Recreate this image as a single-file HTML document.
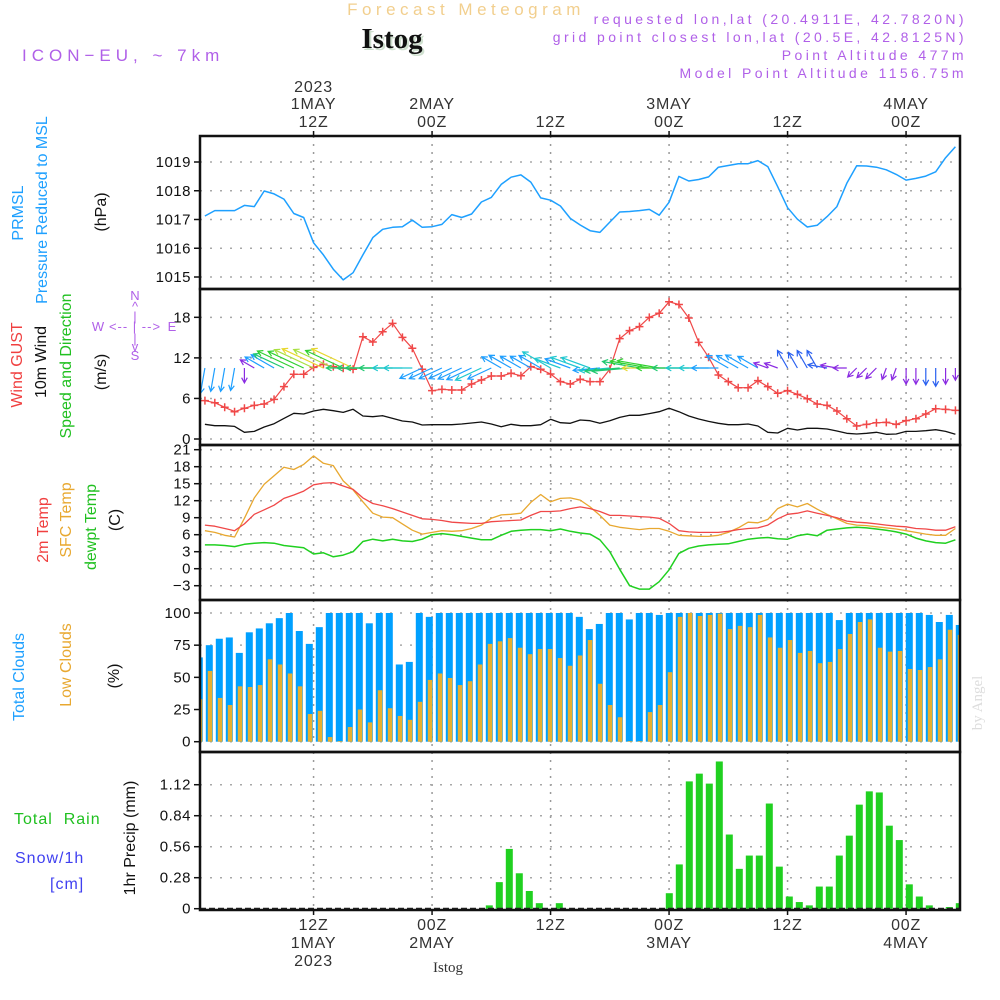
<!DOCTYPE html>
<html><head><meta charset="utf-8">
<style>
html,body{margin:0;padding:0;background:#fff;}
svg{display:block;font-family:"Liberation Sans",sans-serif;}
.tk{font-size:15px;fill:#111;text-anchor:end;letter-spacing:0.5px;}
.tl{font-size:16px;fill:#333;text-anchor:middle;letter-spacing:0.8px;}
.lab{font-size:16px;text-anchor:middle;}
</style></head>
<body>
<svg id="chart" width="1000" height="1000" viewBox="0 0 1000 1000" xmlns="http://www.w3.org/2000/svg">
<rect x="0" y="0" width="1000" height="1000" fill="#fff"/>
<text x="466" y="15" font-size="17" fill="#f2cf8e" text-anchor="middle" letter-spacing="4.5">Forecast Meteogram</text>
<text x="394" y="50" font-size="29" font-weight="bold" font-family="Liberation Serif,serif" fill="#cfe0cf" text-anchor="middle">Istog</text>
<text x="392" y="48" font-size="29" font-weight="bold" font-family="Liberation Serif,serif" fill="#111" text-anchor="middle">Istog</text>
<text x="22" y="61" font-size="17" fill="#b060e8" letter-spacing="5">ICON−EU, ~ 7km</text>
<g font-size="14" fill="#b060e8" text-anchor="end" letter-spacing="3.4">
<text x="967" y="24">requested lon,lat (20.4911E, 42.7820N)</text>
<text x="967" y="42">grid point closest lon,lat (20.5E, 42.8125N)</text>
<text x="967" y="60">Point Altitude 477m</text>
<text x="967" y="78">Model Point Altitude 1156.75m</text>
</g>
<g id="grid"></g>
<g id="marks"></g>
<g id="frames"></g>
<g id="axes"></g>
<g>
<text class="lab" transform="translate(23,213) rotate(-90)" fill="#1ea0ff">PRMSL</text>
<text class="lab" transform="translate(47,210) rotate(-90)" fill="#1ea0ff">Pressure Reduced to MSL</text>
<text class="lab" transform="translate(106,212) rotate(-90)" fill="#111">(hPa)</text>
</g>
<g>
<text class="lab" transform="translate(22,365) rotate(-90)" fill="#f04040">Wind GUST</text>
<text class="lab" transform="translate(46,362) rotate(-90)" fill="#111">10m Wind</text>
<text class="lab" transform="translate(71,366) rotate(-90)" fill="#20c020">Speed and Direction</text>
<text class="lab" transform="translate(106,372) rotate(-90)" fill="#111">(m/s)</text>
</g>
<g font-size="13" fill="#b060e8" text-anchor="middle">
<text x="135" y="300">N</text><text x="135" y="311">^</text><text x="135" y="321">|</text>
<text x="98" y="331">W</text><text x="135" y="331" letter-spacing="1">&lt;-- | --&gt;</text><text x="172" y="331">E</text>
<text x="135" y="343">|</text><text x="135" y="351">v</text><text x="135" y="360">S</text>
</g>
<g>
<text class="lab" transform="translate(48,530) rotate(-90)" fill="#f04040">2m Temp</text>
<text class="lab" transform="translate(71,520) rotate(-90)" fill="#e8a830">SFC Temp</text>
<text class="lab" transform="translate(96,527) rotate(-90)" fill="#20c020">dewpt Temp</text>
<text class="lab" transform="translate(120,520) rotate(-90)" fill="#111">(C)</text>
</g>
<g>
<text class="lab" transform="translate(24,677) rotate(-90)" fill="#1ea0ff">Total Clouds</text>
<text class="lab" transform="translate(71,665) rotate(-90)" fill="#e8a830">Low Clouds</text>
<text class="lab" transform="translate(119,676) rotate(-90)" fill="#111">(%)</text>
</g>
<g>
<text x="14" y="824" font-size="16" fill="#20c020" letter-spacing="1">Total&#160;&#160;Rain</text>
<text x="15" y="863" font-size="16" fill="#4040f0" letter-spacing="1">Snow/1h</text>
<text x="50" y="889" font-size="16" fill="#4040f0" letter-spacing="1">[cm]</text>
<text class="lab" transform="translate(135,838) rotate(-90)" fill="#111">1hr Precip (mm)</text>
</g>
<text transform="translate(982,703) rotate(-90)" font-size="15" font-family="Liberation Serif,serif" fill="#ddd" text-anchor="middle">by Angel</text>
<text x="448" y="972" font-size="15" font-family="Liberation Serif,serif" fill="#333" text-anchor="middle">Istog</text>
</svg>
<script>
const timeTickHours = [12, 24, 36, 48, 60, 72];
const topLabels1 = ["1MAY", "2MAY", "", "3MAY", "", "4MAY"];
const topLabels2 = ["12Z", "00Z", "12Z", "00Z", "12Z", "00Z"];
const bottomLabels1 = ["12Z", "00Z", "12Z", "00Z", "12Z", "00Z"];
const bottomLabels2 = ["1MAY", "2MAY", "", "3MAY", "", "4MAY"];
const yearLabel = "2023";

const pressure = [1017.12,1017.31,1017.31,1017.31,1017.49,1017.45,1017.99,1017.89,1017.71,1017.21,
1017.07,1016.19,1015.77,1015.27,1014.90,1015.15,1015.77,1016.37,1016.66,1016.73,
1016.75,1016.98,1016.73,1016.75,1016.83,1017.17,1017.07,1017.19,1017.61,1017.77,
1018.22,1018.47,1018.55,1018.30,1017.75,1017.67,1017.47,1017.04,1016.81,1016.61,
1016.55,1016.91,1017.26,1017.28,1017.31,1017.35,1017.15,1017.60,1018.50,1018.34,
1018.39,1018.48,1018.82,1018.88,1018.94,1018.94,1019.05,1018.84,1018.14,1017.41,
1017.01,1016.74,1016.80,1017.10,1017.45,1018.26,1018.87,1018.86,1018.82,1018.73,
1018.57,1018.37,1018.43,1018.51,1018.66,1019.15,1019.53];
const pressureTicks = [1015, 1016, 1017, 1018, 1019];

const gust = [5.67,5.37,4.69,4.04,4.54,4.98,5.18,5.87,7.74,9.57,
9.57,10.6,11.05,10.7,10.46,10.31,15.13,14.35,15.87,17.11,
15.04,13.42,10.31,7.15,7.35,7.25,7.25,8.14,8.73,9.32,
9.32,9.72,9.36,10.7,10.31,9.62,8.48,8.14,8.83,8.48,
8.48,10.31,14.84,16.03,16.62,18.0,18.6,20.3,19.9,17.9,
14.3,12.1,9.47,8.48,7.59,7.59,8.63,7.74,6.76,7.15,
6.61,5.96,5.18,4.98,4.14,3.0,1.92,2.17,2.41,2.46,
2.17,2.71,3.0,3.7,4.48,4.38,4.24];
const windSpeed = [2.17,1.97,1.97,1.87,0.99,1.13,1.78,2.27,3.05,3.8,
3.7,4.14,4.39,4.19,3.94,4.39,3.4,3.3,3.45,3.05,
2.66,2.51,2.07,2.12,2.12,2.12,2.22,2.37,2.51,2.22,
1.82,2.17,1.97,1.97,2.12,2.91,2.41,2.32,2.81,2.71,
2.32,2.71,3.2,3.5,3.5,3.75,4.04,4.54,4.04,3.4,
2.96,2.61,2.32,2.12,2.12,2.22,1.92,0.99,0.89,1.58,
1.33,1.58,1.58,1.48,1.18,0.84,0.74,0.84,0.99,0.69,
0.74,1.13,1.13,1.23,1.38,1.13,0.69];
const windDirTo = [190,190,190,190,180,300,300,300,295,295,
295,295,295,295,295,295,270,270,270,270,
270,270,245,245,245,245,245,245,245,245,
300,300,300,300,300,300,290,290,290,290,
265,265,265,265,280,280,280,270,270,270,
270,270,270,300,300,300,300,290,290,330,
330,330,330,280,280,270,225,225,225,200,
200,180,180,180,180,180,180];
const windTicks = [0, 6, 12, 18];

const temp2m = [7.7,7.5,7.1,6.7,7.9,9.6,10.4,11.2,12.4,13.0,
13.7,14.8,15.1,15.2,14.6,14.0,12.5,11.5,11.1,10.6,
10.0,9.4,8.8,8.7,8.5,8.2,8.1,8.0,8.0,8.3,
8.4,8.5,8.6,9.4,10.1,10.1,10.2,10.6,10.9,10.6,
10.1,9.4,9.4,9.3,9.2,9.1,8.9,8.0,6.7,6.5,
6.4,6.4,6.4,6.6,6.9,7.1,7.2,7.7,8.8,9.6,
9.8,10.2,9.8,9.4,9.0,8.4,8.2,8.1,7.9,7.7,
7.5,7.4,7.1,7.0,6.8,6.8,7.4];
const tempSfc = [6.7,6.4,5.9,5.6,8.9,12.5,14.9,16.4,17.9,17.5,
18.4,19.9,18.6,18.2,15.5,13.9,11.8,9.8,9.1,9.0,
7.9,6.8,6.1,6.4,6.7,6.6,6.7,7.1,7.7,8.9,
9.5,9.6,9.8,11.7,13.1,11.8,12.4,12.5,12.1,10.9,
9.4,7.7,7.3,7.1,6.9,7.1,7.1,6.6,5.9,5.8,
5.7,5.7,5.9,6.4,7.2,8.2,8.1,8.7,10.6,11.4,
10.9,11.5,10.5,9.6,8.8,8.0,7.7,7.6,7.4,7.2,
7.0,6.7,6.4,6.1,5.9,5.9,7.1];
const dewpoint = [4.2,4.2,4.1,3.9,4.3,4.5,4.6,4.5,4.1,3.9,
3.7,2.6,2.8,2.1,2.4,3.0,4.8,5.2,4.9,5.2,
4.9,4.8,5.2,6.0,6.2,6.0,5.7,5.4,5.1,5.1,
5.9,6.6,6.8,6.9,6.9,6.7,7.0,6.6,6.3,6.1,
5.1,3.0,-0.1,-3.0,-3.6,-3.6,-2.3,-0.2,2.7,3.6,
4.0,4.2,4.3,4.4,4.8,5.2,5.4,5.5,5.3,5.2,
5.8,6.1,5.8,6.8,7.0,7.2,7.3,7.2,7.0,6.8,
6.5,6.1,5.4,4.9,4.6,4.5,5.1];
const tempTicks = [-3, 0, 3, 6, 9, 12, 15, 18, 21];

const totalClouds = [65.5,75,80,81,69,85,88,92,96,100,
86,76,89,100,100,100,100,92,100,100,
60,62,100,97,100,100,100,100,100,100,
100,100,100,100,100,100,100,100,97,87.5,
91.5,100,100,95,100,100,98.5,100,100,100,
100,100,100,100,100,100,100,100,100,100,
100,100,100,100,94.5,100,100,100,100,100,
100,100,100,98.5,93,98.5,90.7];
const lowClouds = [33,55,34,28.5,43,42.5,44,64,60,53,
43,21.5,24,3.6,0.5,11.4,25,15,40,26,
20,17,31,48,53,49.5,44,47,60,76,
78,80.5,73,68,72,72,65,59,67,79,
45,28.5,19,0.5,0.5,23,28.5,54,97,100,
97.7,98.5,99.5,87.5,90,89,98.5,81,73,79,
69,70.5,61,62,72,83.7,93,95,73,70,
70.5,56.5,55.7,58,64,87,83];
const cloudTicks = [0, 25, 50, 75, 100];

const precip = [0,0,0,0,0,0,0,0,0,0,
0,0,0,0,0,0,0,0,0,0,
0,0,0,0,0,0,0,0,0,0.03,
0.24,0.54,0.32,0.16,0.05,0,0.05,0,0,0,
0,0,0,0,0,0,0,0.14,0.40,1.15,
1.22,1.13,1.33,0.67,0.36,0.48,0.48,0.95,0.38,0.11,
0.06,0.03,0.20,0.20,0.48,0.66,0.94,1.06,1.05,0.75,
0.62,0.22,0.11,0.03,0,0.015,0.05];
const precipTicks = [0, 0.28, 0.56, 0.84, 1.12];
const precipTickLabels = ["0", "0.28", "0.56", "0.84", "1.12"];

const XL = 200, XR = 960;
function xH(h) { return XL + (h - 0.5) * 9.875; }
function xBar(k) { return 199.3 + k * 10; }
const P1 = {t:136, b:289}, P2 = {t:289, b:445}, P3 = {t:445, b:600}, P4 = {t:600, b:752}, P5 = {t:752, b:910};
function yP(v) { return 162 + (1019 - v) * 28.75; }
function yW(v) { return 439 - v * 6.76; }
function yT(v) { return 568.7 - v * 5.667; }
function yC(v) { return 741.7 - v * 1.287; }
function yR(v) { return 908.7 - v * 110.7; }

const NS = "http://www.w3.org/2000/svg";
function mk(tag, attrs, parent) {
  const e = document.createElementNS(NS, tag);
  for (const k in attrs) e.setAttribute(k, attrs[k]);
  parent.appendChild(e);
  return e;
}
const grid = document.getElementById("grid");
const marks = document.getElementById("marks");
const frames = document.getElementById("frames");
const axes = document.getElementById("axes");

const defs = mk("defs", {}, document.getElementById("chart"));
const cp = mk("clipPath", {id:"plotclip"}, defs);
mk("rect", {x:XL, y:130, width:XR-XL, height:790}, cp);
marks.setAttribute("clip-path", "url(#plotclip)");

const panels = [P1, P2, P3, P4, P5];
timeTickHours.forEach(function(h) {
  const x = xH(h);
  const g = mk("line", {x1:x, x2:x, y1:P1.t, y2:P5.b, stroke:"#9a9a9a", "stroke-width":1.5, "stroke-dasharray":"2,6"}, grid);
  
  
});
function hGrid(vals, f) {
  vals.forEach(function(v) {
    const y = f(v);
    const g = mk("line", {x1:XL, x2:XR, y1:y, y2:y, stroke:"#a8a8a8", "stroke-width":1.5, "stroke-dasharray":"2,8"}, grid);
    
    
  });
}
function yTicks(vals, labels, f, name) {
  vals.forEach(function(v, i) {
    const y = f(v);
    const t = mk("line", {x1:XL-6, x2:XL, y1:y, y2:y, stroke:"#111", "stroke-width":1.5}, axes);
    
    
    const tx = mk("text", {x:XL-9, y:y+5, class:"tk"}, axes);
    tx.textContent = labels[i];
    
    
  });
}
hGrid(pressureTicks, yP); yTicks(pressureTicks, pressureTicks.map(String), yP, "pressure-axis");
hGrid(windTicks, yW); yTicks(windTicks, windTicks.map(String), yW, "wind-axis");
hGrid(tempTicks, yT); yTicks(tempTicks, tempTicks.map(function(v){return v<0?"−"+(-v):String(v);}), yT, "temp-axis");
hGrid(cloudTicks, yC); yTicks(cloudTicks, cloudTicks.map(String), yC, "cloud-axis");
hGrid(precipTicks.slice(1), yR); yTicks(precipTicks, precipTickLabels, yR, "precip-axis");

panels.forEach(function(p, i) {
  const r = mk("rect", {x:XL, y:p.t, width:XR-XL, height:p.b-p.t, fill:"none", stroke:"#111", "stroke-width":2.5}, frames);
  
  
});

timeTickHours.forEach(function(h, i) {
  const x = xH(h);
  const t1 = mk("line", {x1:x, x2:x, y1:P1.t-5, y2:P1.t, stroke:"#111", "stroke-width":1.5}, axes);
  
  
  const t2 = mk("line", {x1:x, x2:x, y1:P5.b, y2:P5.b+5, stroke:"#111", "stroke-width":1.5}, axes);
  
  
  const a = mk("text", {x:x, y:127, class:"tl"}, axes); a.textContent = topLabels2[i];
  
  
  if (topLabels1[i]) {
    const b = mk("text", {x:x, y:109, class:"tl"}, axes); b.textContent = topLabels1[i];
    
    
  }
  const c = mk("text", {x:x, y:930, class:"tl"}, axes); c.textContent = bottomLabels1[i];
  
  
  if (bottomLabels2[i]) {
    const d = mk("text", {x:x, y:948, class:"tl"}, axes); d.textContent = bottomLabels2[i];
    
    
  }
});
const yr1 = mk("text", {x:xH(12), y:92, class:"tl"}, axes); yr1.textContent = yearLabel;


const yr2 = mk("text", {x:xH(12), y:966, class:"tl"}, axes); yr2.textContent = yearLabel;



function line(arr, f, color, name, w) {
  const pts = arr.map(function(v, i) { return xH(i+1).toFixed(1) + "," + f(v).toFixed(1); }).join(" ");
  const pl = mk("polyline", {points:pts, fill:"none", stroke:color, "stroke-width":w||1.5, "stroke-linejoin":"round"}, marks);
  
  
  return pl;
}
totalClouds.forEach(function(v, k) {
  const y = yC(v);
  const r = mk("rect", {x:xBar(k)-3.5, y:y, width:7, height:yC(0)-y, fill:"#00a0ff"}, marks);
  
  
});
lowClouds.forEach(function(v, k) {
  const y = yC(v);
  const r = mk("rect", {x:xBar(k)-1.5, y:y, width:4.5, height:yC(0)-y, fill:"#e8b030"}, marks);
  
  
});
precip.forEach(function(v, k) {
  if (v <= 0) return;
  const y = yR(v);
  const r = mk("rect", {x:xBar(k)-3.5, y:y, width:7, height:yR(0)-y, fill:"#20d020"}, marks);
  
  
});
const base = mk("line", {x1:XL, x2:XR, y1:yR(0), y2:yR(0), stroke:"#222", "stroke-width":2, "stroke-dasharray":"6,3"}, marks);



line(pressure, yP, "#1ea0ff", "pressure-line", 1.5);
line(tempSfc, yT, "#e8a830", "sfc-temp-line", 1.3);
line(temp2m, yT, "#f04848", "temp-2m-line", 1.3);
line(dewpoint, yT, "#20d020", "dewpoint-line", 1.5);
line(windSpeed, yW, "#111", "wind-speed-line", 1.3);
line(gust, yW, "#f04848", "gust-line", 1.2);
gust.forEach(function(v, i) {
  const x = xH(i+1), y = yW(v);
  const p = mk("path", {d:"M"+(x-4)+","+y+"h8M"+x+","+(y-4)+"v8", stroke:"#f04848", "stroke-width":1.5}, marks);
  
  
});
function windColor(s) {
  if (s < 1.2) return "#8a2be2";
  if (s < 1.7) return "#2a60f0";
  if (s < 2.4) return "#1e9fff";
  if (s < 3.0) return "#20c8d0";
  if (s < 3.6) return "#20c870";
  if (s < 4.1) return "#30d030";
  if (s < 4.35) return "#a8e040";
  return "#e8d830";
}
windDirTo.forEach(function(d, i) {
  const s = windSpeed[i];
  const L = 6 + s * 9;
  const a = d * Math.PI / 180;
  const x0 = xH(i+1), y0 = yW(10.5);
  const x1 = x0 + Math.sin(a) * L, y1 = y0 - Math.cos(a) * L;
  const hl = 6, ha = 0.5;
  const bx = -Math.sin(a), by = Math.cos(a);
  const c1x = x1 + hl * (bx * Math.cos(ha) - by * Math.sin(ha));
  const c1y = y1 + hl * (bx * Math.sin(ha) + by * Math.cos(ha));
  const c2x = x1 + hl * (bx * Math.cos(-ha) - by * Math.sin(-ha));
  const c2y = y1 + hl * (bx * Math.sin(-ha) + by * Math.cos(-ha));
  const p = mk("path", {d:"M"+x0.toFixed(1)+","+y0.toFixed(1)+"L"+x1.toFixed(1)+","+y1.toFixed(1)+
    "M"+c1x.toFixed(1)+","+c1y.toFixed(1)+"L"+x1.toFixed(1)+","+y1.toFixed(1)+"L"+c2x.toFixed(1)+","+c2y.toFixed(1),
    stroke:windColor(s), "stroke-width":1.2, fill:"none"}, marks);
  
  
});
</script>
</body></html>
